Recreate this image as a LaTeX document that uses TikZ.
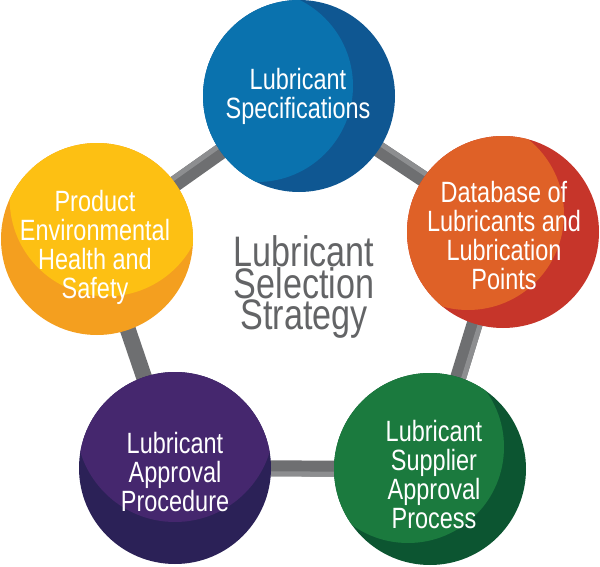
\documentclass[tikz,border=0pt]{standalone}
\usepackage{fontspec}
\setmainfont{Liberation Sans}[FakeStretch=0.8]
\usetikzlibrary{calc,backgrounds}
\definecolor{blueL}{HTML}{0A72AE}
\definecolor{blueD}{HTML}{0F5792}
\definecolor{orangeL}{HTML}{DF6127}
\definecolor{orangeD}{HTML}{C6352A}
\definecolor{greenL}{HTML}{1B7A3E}
\definecolor{greenD}{HTML}{0C5531}
\definecolor{purpleL}{HTML}{45276E}
\definecolor{purpleD}{HTML}{2B2157}
\definecolor{yellowL}{HTML}{FDC013}
\definecolor{yellowD}{HTML}{F49F1F}
\definecolor{barD}{HTML}{6E6F71}
\definecolor{barL}{HTML}{8D8E90}
\definecolor{titleC}{HTML}{636466}
\begin{document}
\begin{tikzpicture}[x=0.75pt,y=-0.75pt,
  ball/.style={circle, minimum size=144pt, inner sep=0pt, draw=none},
  crescent/.style n args={4}{path picture={\fill[#1] ($(path picture bounding box.center)+(#2,#3)$) circle[radius=#4];}},
  balltext/.style={text=white, align=center, inner sep=0pt,
    font=\fontsize{22}{21.75}\selectfont},
  titletext/.style={text=titleC, align=center, inner sep=0pt,
    font=\fontsize{32}{23.6}\selectfont},
  bar/.style={draw=barD, line width=12pt},
  barhi/.style={draw=barL, line width=3.75pt}]
\useasboundingbox (0,0) rectangle (600,567);

% circles
\node[ball, fill=blueD, crescent={blueL}{-42}{-10}{72pt}] (spec) at (299,96) {};
\node[ball, fill=orangeD, crescent={orangeL}{-35}{-18}{72pt}] (db) at (503,232) {};
\node[ball, fill=greenD, crescent={greenL}{-22}{-22}{72pt}] (supp) at (430,469) {};
\node[ball, fill=purpleD, crescent={purpleL}{0}{-45}{74.25pt}] (appr) at (175,468) {};
\node[ball, fill=yellowD, crescent={yellowL}{10}{-40}{73pt}] (env) at (97,239) {};

% labels
\node[balltext] (specT) at (298,96) {Lubricant\\Specifications};
\node[balltext] (dbT) at (504,236) {Database of\\Lubricants and\\Lubrication\\Points};
\node[balltext] (suppT) at (434,474.5) {Lubricant\\Supplier\\Approval\\Process};
\node[balltext] (apprT) at (175,472) {Lubricant\\Approval\\Procedure};
\node[balltext] (envT) at (95,247.5) {Product\\Environmental\\Health and\\Safety};
\node[titletext] (title) at (304,287) {Lubricant\\Selection\\Strategy};

% connectors
\begin{scope}[on background layer]
  \draw[bar] (spec.center) -- (db.center);
  \draw[bar] (db.center) -- (supp.center);
  \draw[bar] (supp.center) -- (appr.center);
  \draw[bar] (appr.center) -- (env.center);
  \draw[bar] (env.center) -- (spec.center);
  \draw[barhi] ($(spec.center)!4.1pt!90:(db.center)$) -- ($(db.center)!4.1pt!-90:(spec.center)$);
  \draw[barhi] ($(db.center)!4.1pt!90:(supp.center)$) -- ($(supp.center)!4.1pt!-90:(db.center)$);
  \draw[barhi] ($(supp.center)!4.1pt!90:(appr.center)$) -- ($(appr.center)!4.1pt!-90:(supp.center)$);
  \draw[barhi] ($(env.center)!4.1pt!90:(spec.center)$) -- ($(spec.center)!4.1pt!-90:(env.center)$);
\end{scope}
\end{tikzpicture}
\end{document}
